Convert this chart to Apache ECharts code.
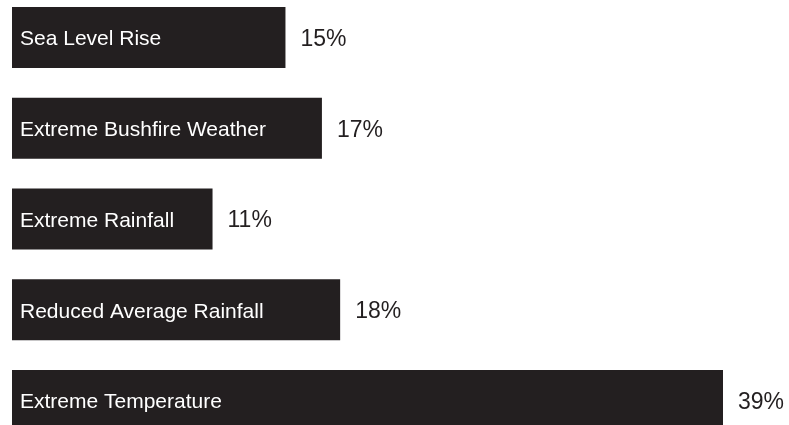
<!DOCTYPE html>
<html>
<head>
<meta charset="utf-8">
<script src="https://cdn.jsdelivr.net/npm/echarts@6/dist/echarts.min.js"></script>
<style>
  html, body { margin: 0; padding: 0; background: #ffffff; }
  #chart { width: 789px; height: 425px; }
</style>
</head>
<body>
<div id="chart"></div>
<script>
// Climate hazards and their share (%)
const categories = [
  'Sea Level Rise',
  'Extreme Bushfire Weather',
  'Extreme Rainfall',
  'Reduced Average Rainfall',
  'Extreme Temperature'
];
const shares = [15, 17, 11, 18, 39];

const INK = '#231f20';
const FONT = '"Liberation Sans", Arial, Helvetica, sans-serif';

const chart = echarts.init(document.getElementById('chart'), null, { renderer: 'canvas' });

chart.setOption({
  animation: false,
  backgroundColor: '#ffffff',
  // bar centres sit on the category ticks, so the grid spans first to last centre
  grid: { left: 12, right: 66, top: 37.5, height: 363, containLabel: false },
  xAxis: {
    type: 'value', min: 0, max: 39, show: false
  },
  yAxis: {
    type: 'category', data: categories, inverse: true, boundaryGap: false, show: false
  },
  series: [
    {
      // bars with the hazard name inside
      type: 'bar',
      data: shares,
      barWidth: 61,
      clip: false,
      itemStyle: { color: INK },
      label: {
        show: true,
        position: 'insideLeft',
        distance: 8,
        offset: [0, 2],
        color: '#ffffff',
        fontFamily: FONT,
        fontSize: 21,
        formatter: p => p.name
      },
      silent: true
    },
    {
      // value labels to the right of each bar
      type: 'bar',
      data: shares,
      barWidth: 61,
      barGap: '-100%',
      clip: false,
      itemStyle: { color: 'rgba(0,0,0,0)' },
      label: {
        show: true,
        position: 'right',
        distance: 15,
        offset: [0, 2],
        color: INK,
        fontFamily: FONT,
        fontSize: 23,
        formatter: p => p.value + '%'
      },
      silent: true
    }
  ]
});
</script>
</body>
</html>
